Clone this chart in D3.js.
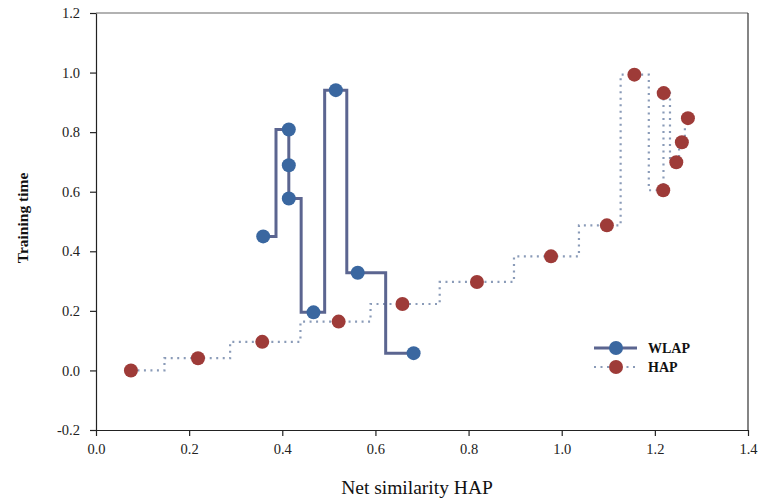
<!DOCTYPE html>
<html>
<head>
<meta charset="utf-8">
<script src="https://cdn.jsdelivr.net/npm/d3@7"></script>
<style>
  body { margin: 0; background: #fff; }
  text { font-family: "Liberation Serif", "Times New Roman", serif; }
</style>
</head>
<body>
<div id="chart"></div>
<script>
// values
var wlapX = [0.359, 0.414, 0.414, 0.414, 0.467, 0.515, 0.562, 0.682];
var wlapY = [0.450, 0.809, 0.689, 0.577, 0.195, 0.941, 0.328, 0.058];

var hapX = [0.075, 0.219, 0.357, 0.521, 0.658, 0.818, 0.977, 1.097, 1.156, 1.218, 1.219, 1.246, 1.258, 1.271];
var hapY = [0.000, 0.041, 0.096, 0.164, 0.223, 0.297, 0.383, 0.487, 0.993, 0.605, 0.931, 0.699, 0.766, 0.847];

var xTicks = [0, 0.2, 0.4, 0.6, 0.8, 1.0, 1.2, 1.4];
var yTicks = [-0.2, 0, 0.2, 0.4, 0.6, 0.8, 1.0, 1.2];
var seriesNames = ["WLAP", "HAP"];

var svgWidth = 765, svgHeight = 502;
var margin = {top: 13, right: 17, bottom: 72, left: 96};
var width = svgWidth - margin.left - margin.right;
var height = svgHeight - margin.top - margin.bottom;

var svg = d3.select("#chart").append("svg")
  .attr("width", svgWidth)
  .attr("height", svgHeight);

var g = svg.append("g")
  .attr("transform", `translate(${margin.left}, ${margin.top})`);

var x = d3.scaleLinear().domain([0, 1.4]).range([0, width]);
var y = d3.scaleLinear().domain([-0.2, 1.2]).range([height, 0]);

var fmt = d => d.toFixed(1);

// frame (top + right)
g.append("line").attr("x1", 0).attr("x2", width).attr("y1", 0).attr("y2", 0)
  .attr("stroke", "#666").attr("stroke-width", 1.2);
g.append("line").attr("x1", width).attr("x2", width).attr("y1", 0).attr("y2", height)
  .attr("stroke", "#333").attr("stroke-width", 1.2);

var xAxis = g.append("g")
  .attr("transform", `translate(0, ${height})`)
  .call(d3.axisBottom(x).tickValues(xTicks).tickFormat(fmt).tickSize(6).tickSizeOuter(0).tickPadding(8));

var yAxis = g.append("g")
  .call(d3.axisLeft(y).tickValues(yTicks).tickFormat(fmt).tickSize(6).tickSizeOuter(0).tickPadding(10));

[xAxis, yAxis].forEach(function(ax) {
  ax.selectAll("path, line").attr("stroke", "#222").attr("stroke-width", 1.2);
  ax.selectAll("text")
    .attr("fill", "#222")
    .style("font-size", "14.5px")
    .style("font-family", '"Liberation Serif", serif');
});

// data
var wlap = wlapX.map((v, i) => ({x: v, y: wlapY[i]}));
var hap = hapX.map((v, i) => ({x: v, y: hapY[i]}));

var line = d3.line()
  .x(d => x(d.x))
  .y(d => y(d.y))
  .curve(d3.curveStep);

g.append("path")
  .datum(hap)
  .attr("d", line)
  .attr("fill", "none")
  .attr("stroke", "#8a9bb8")
  .attr("stroke-width", 2.2)
  .attr("stroke-dasharray", "2,4.5");

g.append("path")
  .datum(wlap)
  .attr("d", line)
  .attr("fill", "none")
  .attr("stroke", "#5b6590")
  .attr("stroke-width", 3);

g.selectAll(".hapDot")
  .data(hap)
  .enter()
  .append("circle")
  .attr("class", "hapDot")
  .attr("cx", d => x(d.x))
  .attr("cy", d => y(d.y))
  .attr("r", 7)
  .attr("fill", "#9e3b38");

g.selectAll(".wlapDot")
  .data(wlap)
  .enter()
  .append("circle")
  .attr("class", "wlapDot")
  .attr("cx", d => x(d.x))
  .attr("cy", d => y(d.y))
  .attr("r", 7)
  .attr("fill", "#3a67a0");

// legend
var legend = svg.append("g").attr("transform", "translate(594, 348)");

legend.append("line").attr("x1", 0).attr("x2", 43).attr("y1", 0).attr("y2", 0)
  .attr("stroke", "#5b6590").attr("stroke-width", 3);
legend.append("circle").attr("cx", 22).attr("cy", 0).attr("r", 7).attr("fill", "#3a67a0");
legend.append("text").attr("x", 54).attr("y", 5)
  .style("font-size", "14px").style("font-weight", "bold").attr("fill", "#111")
  .text(seriesNames[0]);

legend.append("line").attr("x1", 0).attr("x2", 43).attr("y1", 19).attr("y2", 19)
  .attr("stroke", "#8a9bb8").attr("stroke-width", 2.2).attr("stroke-dasharray", "2,4.5");
legend.append("circle").attr("cx", 22).attr("cy", 19).attr("r", 7).attr("fill", "#9e3b38");
legend.append("text").attr("x", 54).attr("y", 24)
  .style("font-size", "14px").style("font-weight", "bold").attr("fill", "#111")
  .text(seriesNames[1]);

// axis titles
svg.append("text")
  .attr("x", margin.left + width / 2 - 5)
  .attr("y", 494)
  .attr("text-anchor", "middle")
  .style("font-size", "19.5px")
  .attr("fill", "#111")
  .text("Net similarity HAP");

svg.append("text")
  .attr("transform", "translate(28, 218) rotate(-90)")
  .attr("text-anchor", "middle")
  .style("font-size", "15.5px")
  .style("font-weight", "bold")
  .attr("fill", "#111")
  .text("Training time");
</script>
</body>
</html>
